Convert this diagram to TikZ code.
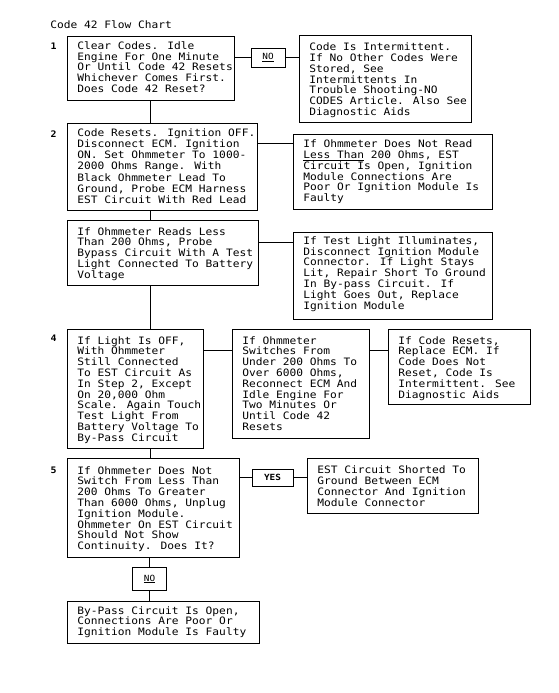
\documentclass[tikz,border=0pt]{standalone}
\usepackage{fontspec}
\newfontfamily\flowfont[FakeStretch=1.1]{DejaVu Sans Mono}
\newcommand{\flowtext}{\flowfont\fontsize{10.2}{10.8}\selectfont}
\newcommand{\answertext}{\flowfont\fontsize{8.5}{8.5}\selectfont}

\begin{document}
\begin{tikzpicture}[x=1pt,y=-1pt,line width=0.8pt,
	steptext/.style={anchor=north west,inner sep=0pt,align=left,font=\flowtext},
	numlabel/.style={anchor=north east,inner sep=0pt,font=\flowfont\fontsize{9}{9}\selectfont\bfseries}]
		\useasboundingbox (0,0) rectangle (558,693);
		
		\node[anchor=base west,inner sep=0pt,font=\flowtext] (title) at (50,28.5) {Code 42 Flow Chart};
		
		\begin{scope}[every node/.style={draw,rectangle,anchor=north west,inner sep=0pt}]
		\node[minimum width=167, minimum height=64]	(step1) at (67, 36)  {};
		\node[minimum width=172, minimum height=87]	(res1)  at (299, 35) {};
		
		\node[minimum width=190, minimum height=87]	(step2) at (67, 122.5) {};
		\node[minimum width=199, minimum height=75]	(res2)  at (293, 134) {};
		
		\node[minimum width=191, minimum height=65]	(step3) at (67, 220) {};
		\node[minimum width=199, minimum height=87]	(res3)  at (293, 232) {};
		
		\node[minimum width=136, minimum height=119]	(step4) at (67, 329) {};
		\node[minimum width=137, minimum height=109]	(res4a) at (232, 329) {};
		\node[minimum width=142, minimum height=75]	(res4b) at (388, 329) {};
		
		\node[minimum width=172, minimum height=99]	(step5) at (67, 458) {};
		\node[minimum width=171, minimum height=55]	(res5)  at (307, 458) {};
		
		\node[minimum width=192, minimum height=42]	(resf)  at (67, 601) {};
		\end{scope}
		
		\begin{scope}[every node/.style={draw,rectangle,inner sep=0pt,font=\answertext}]
		\node[minimum width=34, minimum height=19]	(no1)  at (268, 57.5) {\underline{NO}};
		\node[minimum width=41, minimum height=17,font=\answertext\bfseries]	(yes5) at (272.5, 477.5) {YES};
		\node[minimum width=34, minimum height=23]	(no5)  at (149.5, 579) {\underline{NO}};
		\end{scope}
		
		\node[numlabel] (num1) at ([shift={(-10,6.7)}]step1.north west) {1};
		\node[numlabel] (num2) at ([shift={(-10,7.5)}]step2.north west) {2};
		\node[numlabel] (num4) at ([shift={(-10,5.5)}]step4.north west) {4};
		\node[numlabel] (num5) at ([shift={(-10,8.5)}]step5.north west) {5};
		
		\node[steptext] (t1)  at ([shift={(10,5)}]step1.north west) {Clear Codes. Idle\\Engine For One Minute\\Or Until Code 42 Resets\\Whichever Comes First.\\Does Code 42 Reset?};
		\node[steptext] (t1r) at ([shift={(10,7.5)}]res1.north west) {Code Is Intermittent.\\If No Other Codes Were\\Stored, See\\Intermittents In\\Trouble Shooting-NO\\CODES Article. Also See\\Diagnostic Aids};
		\node[steptext,font=\flowfont\fontsize{10.2}{11.1}\selectfont] (t2)  at ([shift={(10,6)}]step2.north west) {Code Resets. Ignition OFF.\\Disconnect ECM. Ignition\\ON. Set Ohmmeter To 1000-\\2000 Ohms Range. With\\Black Ohmmeter Lead To\\Ground, Probe ECM Harness\\EST Circuit With Red Lead};
		\node[steptext] (t2r) at ([shift={(10,5.5)}]res2.north west) {If Ohmmeter Does Not Read\\\underline{Less Than} 200 Ohms, EST\\Circuit Is Open, Ignition\\Module Connections Are\\Poor Or Ignition Module Is\\Faulty};
		\node[steptext] (t3)  at ([shift={(10,7)}]step3.north west) {If Ohmmeter Reads Less\\Than 200 Ohms, Probe\\Bypass Circuit With A Test\\Light Connected To Battery\\Voltage};
		\node[steptext] (t3r) at ([shift={(10,4)}]res3.north west) {If Test Light Illuminates,\\Disconnect Ignition Module\\Connector. If Light Stays\\Lit, Repair Short To Ground\\In By-pass Circuit. If\\Light Goes Out, Replace\\Ignition Module};
		\node[steptext] (t4)  at ([shift={(10,7)}]step4.north west) {If Light Is OFF,\\With Ohmmeter\\Still Connected\\To EST Circuit As\\In Step 2, Except\\On 20,000 Ohm\\Scale. Again Touch\\Test Light From\\Battery Voltage To\\By-Pass Circuit};
		\node[steptext] (t4a) at ([shift={(10,7)}]res4a.north west) {If Ohmmeter\\Switches From\\Under 200 Ohms To\\Over 6000 Ohms,\\Reconnect ECM And\\Idle Engine For\\Two Minutes Or\\Until Code 42\\Resets};
		\node[steptext] (t4b) at ([shift={(10,7)}]res4b.north west) {If Code Resets,\\Replace ECM. If\\Code Does Not\\Reset, Code Is\\Intermittent. See\\Diagnostic Aids};
		\node[steptext] (t5)  at ([shift={(10,8)}]step5.north west) {If Ohmmeter Does Not\\Switch From Less Than\\200 Ohms To Greater\\Than 6000 Ohms, Unplug\\Ignition Module.\\Ohmmeter On EST Circuit\\Should Not Show\\Continuity. Does It?};
		\node[steptext] (t5r) at ([shift={(10,7.5)}]res5.north west) {EST Circuit Shorted To\\Ground Between ECM\\Connector And Ignition\\Module Connector};
		\node[steptext] (tf)  at ([shift={(10,5)}]resf.north west) {By-Pass Circuit Is Open,\\Connections Are Poor Or\\Ignition Module Is Faulty};
		
		\coordinate (spine) at (150, 0);
		\coordinate (j2) at (0, 143.5);
		\coordinate (j3) at (0, 242);
		\coordinate (j4) at (0, 350);
		
		\draw (no1.west -| step1.east) -- (no1.west);
		\draw (no1.east) -- (no1.east -| res1.west);
		\draw (spine |- step1.south) -- (spine |- step2.north);
		
		\draw (step2.east |- j2) -- (res2.west |- j2);
		\draw (spine |- step2.south) -- (spine |- step3.north);
		
		\draw (step3.east |- j3) -- (res3.west |- j3);
		\draw (spine |- step3.south) -- (spine |- step4.north);
		
		\draw (step4.east |- j4) -- (res4a.west |- j4);
		\draw (res4a.east |- j4) -- (res4b.west |- j4);
		\draw (spine |- step4.south) -- (spine |- step5.north);
		
		\draw (yes5.west -| step5.east) -- (yes5.west);
		\draw (yes5.east) -- (yes5.east -| res5.west);
		\draw (no5.north |- step5.south) -- (no5.north);
		\draw (no5.south) -- (no5.south |- resf.north);
\end{tikzpicture}
\end{document}
